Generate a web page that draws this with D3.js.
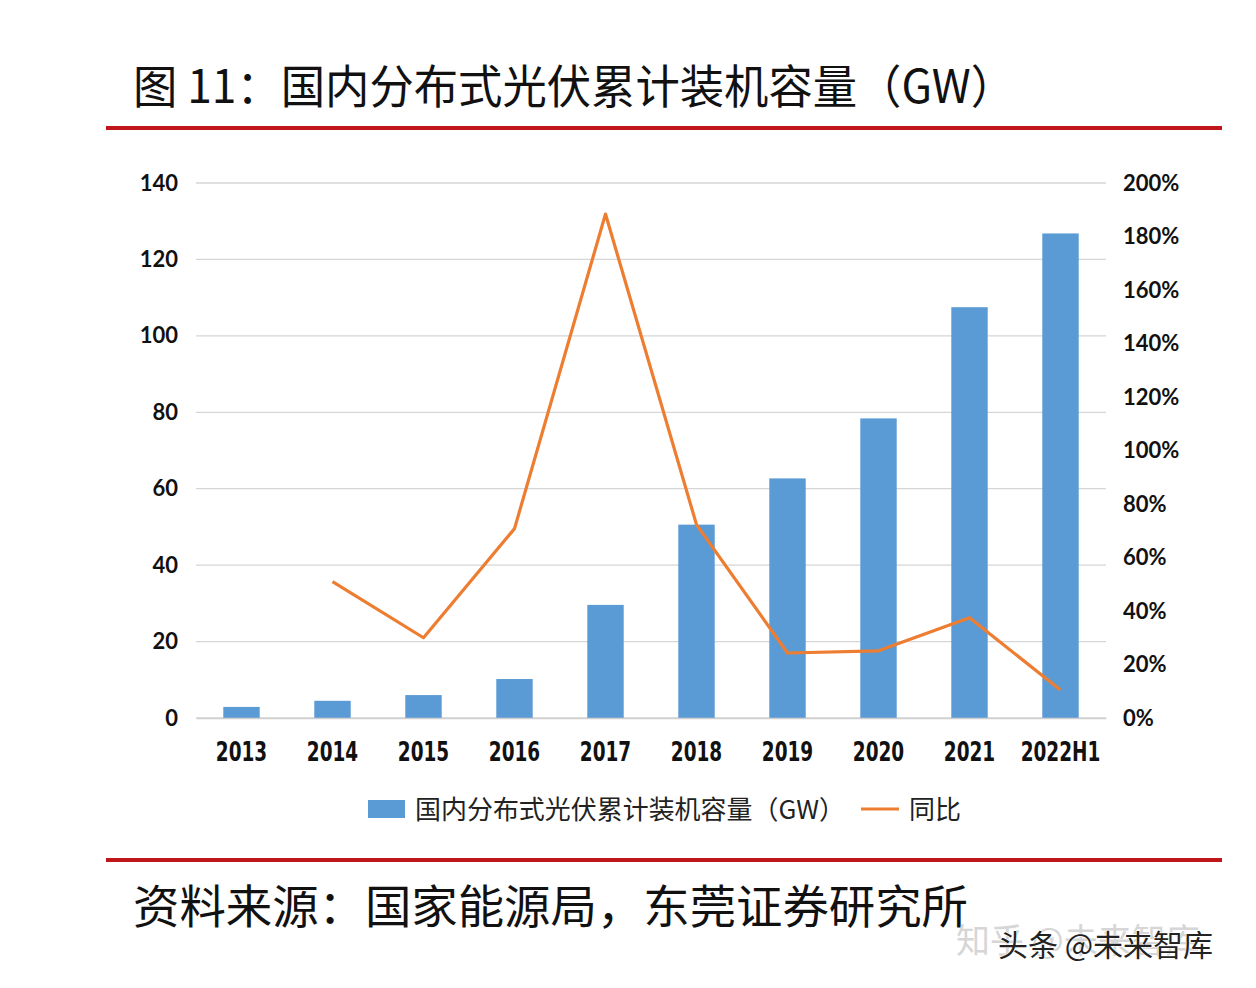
<!DOCTYPE html>
<html>
<head>
<meta charset="utf-8">
<script src="https://cdn.jsdelivr.net/npm/d3@7"></script>
<style>
  html, body { margin: 0; padding: 0; background: #fff; }
  svg { display: block; }
</style>
</head>
<body>
<svg id="chart" width="1256" height="988"></svg>
<script>
const categories = ["2013", "2014", "2015", "2016", "2017", "2018", "2019", "2020", "2021", "2022H1"];
const capacity = [2.9, 4.5, 6.0, 10.2, 29.6, 50.6, 62.7, 78.4, 107.5, 126.8];
const yoy = [null, 0.51, 0.30, 0.708, 1.884, 0.723, 0.243, 0.251, 0.375, 0.105];
const leftTicks = [0, 20, 40, 60, 80, 100, 120, 140];
const rightTicks = [0, 0.2, 0.4, 0.6, 0.8, 1.0, 1.2, 1.4, 1.6, 1.8, 2.0];
const titleText = "图 11：国内分布式光伏累计装机容量（GW）";
const sourceText = "资料来源：国家能源局，东莞证券研究所";
const legendBar = "国内分布式光伏累计装机容量（GW）";
const legendLine = "同比";

const svg = d3.select("#chart");
const cjk = "'Noto Sans CJK SC', 'Noto Sans', sans-serif";

// Title
svg.append("text")
  .attr("x", 133).attr("y", 103)
  .attr("font-family", cjk).attr("font-size", 46)
  .attr("textLength", 882).attr("lengthAdjust", "spacingAndGlyphs")
  .attr("fill", "#111")
  .text(titleText);

// Red rules
[128, 860].forEach(y => {
  svg.append("line").attr("x1", 106).attr("x2", 1222).attr("y1", y).attr("y2", y)
    .attr("stroke", "#c0151b").attr("stroke-width", 4);
});

const x = d3.scaleBand().domain(categories).range([196, 1106]).paddingInner(0.6).paddingOuter(0.3);
const y = d3.scaleLinear().domain([0, 140]).range([718, 183]);
const y2 = d3.scaleLinear().domain([0, 2.0]).range([718, 183]);

// Gridlines
svg.append("g").selectAll("line").data(leftTicks).join("line")
  .attr("x1", 196).attr("x2", 1106)
  .attr("y1", d => y(d)).attr("y2", d => y(d))
  .attr("stroke", "#d6d6d6").attr("stroke-width", 1.3);

// Left axis
const yAxis = svg.append("g").attr("transform", "translate(182,0)")
  .call(d3.axisLeft(y).tickValues(leftTicks).tickSize(0).tickPadding(4));
yAxis.select(".domain").remove();
yAxis.selectAll("text").attr("font-family", "Lato, 'Open Sans', sans-serif")
  .attr("font-weight", "bold").attr("font-size", 22).attr("fill", "#111");

// Right axis
const y2Axis = svg.append("g").attr("transform", "translate(1120,0)")
  .call(d3.axisRight(y2).tickValues(rightTicks).tickSize(0).tickPadding(3).tickFormat(d3.format(".0%")));
y2Axis.select(".domain").remove();
y2Axis.selectAll("text").attr("font-family", "Lato, 'Open Sans', sans-serif")
  .attr("font-weight", "bold").attr("font-size", 22).attr("fill", "#111");

// Bars
svg.append("g").selectAll("rect").data(categories).join("rect")
  .attr("x", d => x(d)).attr("width", x.bandwidth())
  .attr("y", (d, i) => y(capacity[i]))
  .attr("height", (d, i) => y(0) - y(capacity[i]))
  .attr("fill", "#5b9bd5");

// Bottom axis
const xAxis = svg.append("g").attr("transform", "translate(0,718)")
  .call(d3.axisBottom(x).tickSize(0).tickPadding(25));
xAxis.select(".domain").attr("stroke", "#d0d0d0").attr("stroke-width", 1.3);
xAxis.selectAll("text").attr("font-family", "'DejaVu Sans', sans-serif")
  .attr("font-weight", "bold").attr("font-size", 26).attr("fill", "#111")
  .each(function() {
    const w = this.getComputedTextLength();
    d3.select(this).attr("textLength", w * 0.71).attr("lengthAdjust", "spacingAndGlyphs");
  });

// Line
const pts = categories.map((c, i) => ({ c, v: yoy[i] })).filter(p => p.v !== null);
const line = d3.line().x(p => x(p.c) + x.bandwidth() / 2).y(p => y2(p.v));
svg.append("path").datum(pts).attr("d", line)
  .attr("fill", "none").attr("stroke", "#ed7d31").attr("stroke-width", 3.2)
  .attr("stroke-linejoin", "round");

// Legend
svg.append("rect").attr("x", 368).attr("y", 800).attr("width", 37).attr("height", 18).attr("fill", "#5b9bd5");
svg.append("text").attr("x", 415).attr("y", 819)
  .attr("font-family", cjk).attr("font-size", 26)
  .attr("textLength", 430).attr("lengthAdjust", "spacingAndGlyphs")
  .attr("fill", "#222").text(legendBar);
svg.append("line").attr("x1", 861).attr("x2", 899).attr("y1", 809).attr("y2", 809)
  .attr("stroke", "#ed7d31").attr("stroke-width", 3.2);
svg.append("text").attr("x", 909).attr("y", 819)
  .attr("font-family", cjk).attr("font-size", 26).attr("fill", "#222").text(legendLine);

// Source
svg.append("text").attr("x", 133).attr("y", 923)
  .attr("font-family", cjk).attr("font-size", 46)
  .attr("textLength", 835).attr("lengthAdjust", "spacingAndGlyphs")
  .attr("fill", "#111").text(sourceText);

// Watermarks (overlapping in the reference)
svg.append("text").attr("x", 956).attr("y", 953)
  .attr("font-family", cjk).attr("font-size", 34).attr("fill", "#d6d6d6")
  .text("知乎 @未来智库");
svg.append("text").attr("x", 998).attr("y", 956)
  .attr("font-family", cjk).attr("font-size", 30).attr("fill", "#222")
  .attr("stroke", "#fff").attr("stroke-width", 1.2).attr("paint-order", "stroke")
  .text("头条 @未来智库");
</script>
</body>
</html>
